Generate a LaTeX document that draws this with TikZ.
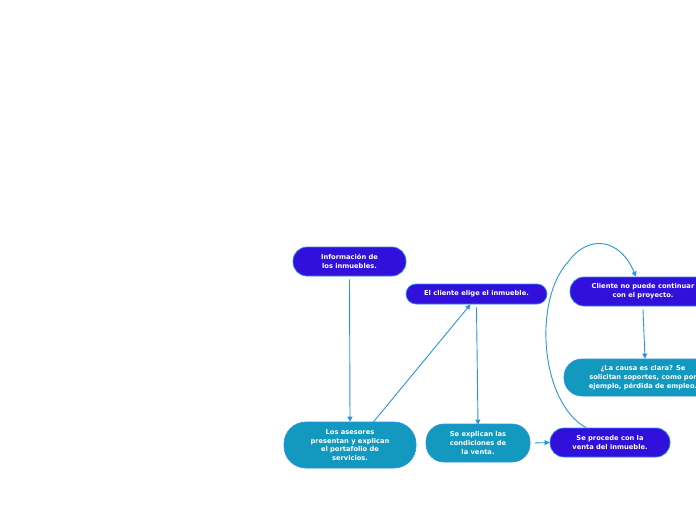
\documentclass[tikz,border=0pt]{standalone}
\usepackage{fontspec}
\setmainfont{DejaVu Sans}
\usetikzlibrary{arrows.meta}
\definecolor{purp}{HTML}{3210DC}
\definecolor{teal2}{HTML}{1399BF}
\definecolor{edge}{HTML}{2F8FE6}
\definecolor{link}{HTML}{2A95DC}
\tikzset{
  box/.style={draw=edge, line width=0.7pt, text=white, align=center, inner sep=0pt,
    font=\fontsize{6.7}{8.7}\selectfont\bfseries},
  pbox/.style={box, fill=purp},
  tbox/.style={box, fill=teal2},
  conn/.style={draw=link, line width=0.9pt, -{Triangle[length=5pt,width=5pt]}}
}
\begin{document}
\begin{tikzpicture}[x=1pt,y=-1pt]
\useasboundingbox (0,0) rectangle (696,520);
\node[pbox, minimum width=113pt, minimum height=29pt, rounded corners=14pt] (info) at (349.5,261.5) {Información de\\los inmuebles.};
\node[pbox, minimum width=141pt, minimum height=20pt, rounded corners=10pt] (elige) at (476.5,294) {El cliente elige el inmueble.};
\node[pbox, minimum width=146pt, minimum height=29pt, rounded corners=14pt] (nopuede) at (643,291.5) {Cliente no puede continuar\\con el proyecto.};
\node[tbox, minimum width=158pt, minimum height=37pt, rounded corners=18pt] (causa) at (643,377.5) {¿La causa es clara? Se\\solicitan soportes, como por\\ejemplo, pérdida de empleo.};
\node[tbox, minimum width=132pt, minimum height=46pt, rounded corners=22pt] (asesores) at (350,445) {Los asesores\\presentan y explican\\el portafolio de\\servicios.};
\node[tbox, minimum width=104pt, minimum height=38pt, rounded corners=18pt] (explican) at (478,443) {Se explican las\\condiciones de\\la venta.};
\node[pbox, minimum width=120pt, minimum height=29pt, rounded corners=14pt] (procede) at (610,442.5) {Se procede con la\\venta del inmueble.};
\coordinate (c1) at (568,262);
\draw[conn] ([yshift=-3pt]info.south) -- (asesores.north);
\draw[conn] ([xshift=22pt,yshift=-2pt]asesores.north) -- ([xshift=-6pt]elige.south);
\draw[conn] ([yshift=-3pt]elige.south) -- ([yshift=-1pt]explican.north);
\draw[conn] ([xshift=4pt]explican.east) -- (procede.west);
\draw[conn] ([xshift=-24pt]procede.north) .. controls (540,402) and (533,300) .. (c1) .. controls (588,234) and (620,238) .. ([xshift=-7pt]nopuede.north);
\draw[conn] ([yshift=-3pt]nopuede.south) -- ([xshift=2pt]causa.north);
\end{tikzpicture}
\end{document}
